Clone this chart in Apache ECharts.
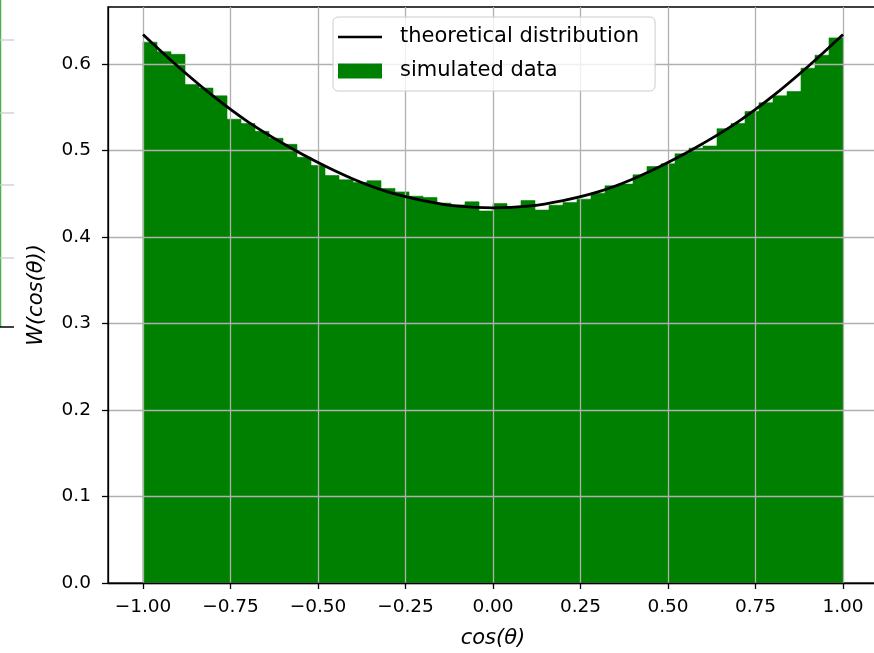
<!DOCTYPE html>
<html>
<head>
<meta charset="utf-8">
<script src="https://cdn.jsdelivr.net/npm/echarts@6/dist/echarts.min.js"></script>
<style>html,body{margin:0;padding:0;background:#fff}#c{width:874px;height:653px}</style>
</head>
<body>
<div id="c"></div>
<script>
const binEdges = [-1.00,-0.96,-0.92,-0.88,-0.84,-0.80,-0.76,-0.72,-0.68,-0.64,-0.60,-0.56,-0.52,-0.48,-0.44,-0.40,-0.36,-0.32,-0.28,-0.24,-0.20,-0.16,-0.12,-0.08,-0.04,0.00,0.04,0.08,0.12,0.16,0.20,0.24,0.28,0.32,0.36,0.40,0.44,0.48,0.52,0.56,0.60,0.64,0.68,0.72,0.76,0.80,0.84,0.88,0.92,0.96,1.00];
const simulated = [0.625,0.614,0.611,0.576,0.572,0.563,0.536,0.531,0.522,0.514,0.507,0.492,0.4825,0.471,0.466,0.463,0.465,0.456,0.452,0.447,0.4455,0.439,0.437,0.4405,0.430,0.4385,0.435,0.442,0.431,0.4366,0.4397,0.4436,0.4505,0.459,0.461,0.4717,0.4813,0.4844,0.496,0.5025,0.505,0.525,0.531,0.545,0.555,0.563,0.568,0.595,0.610,0.630];
const theoryX = [-1.0,-0.9,-0.8,-0.7,-0.6,-0.5,-0.4,-0.3,-0.2,-0.1,0.0,0.1,0.2,0.3,0.4,0.5,0.6,0.7,0.8,0.9,1.0];
const theoryY = [0.634,0.597,0.563,0.533,0.508,0.486,0.467,0.452,0.442,0.4355,0.4335,0.4355,0.442,0.452,0.467,0.486,0.508,0.533,0.563,0.597,0.634];
const xTicks = [-1.0,-0.75,-0.5,-0.25,0.0,0.25,0.5,0.75,1.0];
const yTicks = [0.0,0.1,0.2,0.3,0.4,0.5,0.6];

const FONT = 'DejaVu Sans';
const chart = echarts.init(document.getElementById('c'), null, {renderer: 'canvas'});
const gridColor = '#b0b0b0';

const option = {
  animation: false,
  backgroundColor: '#ffffff',
  grid: {
    left: 108, top: 7, width: 770, height: 576,
    show: true, borderColor: '#000', borderWidth: 1.3, backgroundColor: 'transparent',
    outerBoundsMode: 'none', containLabel: false
  },
  legend: {
    orient: 'vertical', left: 333, top: 17,
    padding: [8, 16, 8, 5],
    backgroundColor: 'rgba(255,255,255,0.8)', borderColor: '#cccccc', borderWidth: 1, borderRadius: 5,
    itemWidth: 44, itemHeight: 15, itemGap: 10, symbolKeepAspect: true,
    textStyle: {fontFamily: FONT, fontSize: 21, color: '#000', lineHeight: 24, padding: [0, 0, 0, 13]},
    data: [
      {name: 'theoretical distribution', icon: 'path://M0,0L44,0L44,2.6L0,2.6Z'},
      {name: 'simulated data', icon: 'rect'}
    ]
  },
  xAxis: {
    type: 'value', min: -1.1, max: 1.1, z: 3,
    name: 'cos(θ)', nameLocation: 'middle', nameGap: 45,
    nameTextStyle: {fontFamily: FONT, fontSize: 21, fontStyle: 'italic', color: '#000'},
    axisLine: {show: true, onZero: false, lineStyle: {color: '#000', width: 1.3}},
    axisTick: {show: true, length: 6, customValues: xTicks, lineStyle: {color: '#000', width: 1.3}},
    axisLabel: {customValues: xTicks, margin: 15, fontFamily: FONT, fontSize: 18.5, color: '#000',
      formatter: v => (v < -1e-9 ? '\u2212' : '') + Math.abs(v).toFixed(2)},
    splitLine: {show: true, lineStyle: {color: gridColor, width: 1.3}}
  },
  yAxis: {
    type: 'value', min: 0, max: 0.6657, interval: 0.1, z: 3,
    name: 'W(cos(θ))', nameLocation: 'middle', nameGap: 61,
    nameTextStyle: {fontFamily: FONT, fontSize: 21, fontStyle: 'italic', color: '#000'},
    axisLine: {show: true, onZero: false, lineStyle: {color: '#000', width: 1.3}},
    axisTick: {show: true, length: 6, customValues: yTicks, lineStyle: {color: '#000', width: 1.3}},
    axisLabel: {customValues: yTicks, margin: 17, fontFamily: FONT, fontSize: 18.5, color: '#000',
      formatter: v => v.toFixed(1)},
    splitLine: {show: true, lineStyle: {color: gridColor, width: 1.3}}
  },
  series: [
    {
      name: 'theoretical distribution', type: 'line', z: 5,
      data: theoryX.map((x, i) => [x, theoryY[i]]),
      smooth: 0.4, symbol: 'none', showSymbol: false,
      lineStyle: {color: '#000', width: 2.8}, itemStyle: {color: '#000'}
    },
    {
      name: 'simulated data', type: 'custom', z: 1, clip: true,
      itemStyle: {color: '#008000'},
      encode: {x: [0, 1], y: 2},
      data: simulated.map((v, i) => [binEdges[i], binEdges[i + 1], v]),
      renderItem: function (params, api) {
        const p0 = api.coord([api.value(0), api.value(2)]);
        const p1 = api.coord([api.value(1), 0]);
        return {
          type: 'rect',
          shape: {x: p0[0], y: p0[1], width: p1[0] - p0[0], height: p1[1] - p0[1]},
          style: {fill: '#008000', stroke: '#008000', lineWidth: 0.6}
        };
      }
    }
  ],
  graphic: [
    {type: 'line', shape: {x1: 0.5, y1: 0, x2: 0.5, y2: 327}, style: {stroke: '#4caf50', lineWidth: 1.5}},
    {type: 'line', shape: {x1: 0, y1: 40, x2: 14, y2: 40}, style: {stroke: '#c8c8c8', lineWidth: 1.2}},
    {type: 'line', shape: {x1: 0, y1: 113, x2: 14, y2: 113}, style: {stroke: '#c8c8c8', lineWidth: 1.2}},
    {type: 'line', shape: {x1: 0, y1: 185, x2: 14, y2: 185}, style: {stroke: '#c8c8c8', lineWidth: 1.2}},
    {type: 'line', shape: {x1: 0, y1: 258, x2: 14, y2: 258}, style: {stroke: '#c8c8c8', lineWidth: 1.2}},
    {type: 'line', shape: {x1: 0, y1: 327, x2: 14, y2: 327}, style: {stroke: '#000', lineWidth: 1.5}}
  ]
};
chart.setOption(option);
</script>
</body>
</html>
